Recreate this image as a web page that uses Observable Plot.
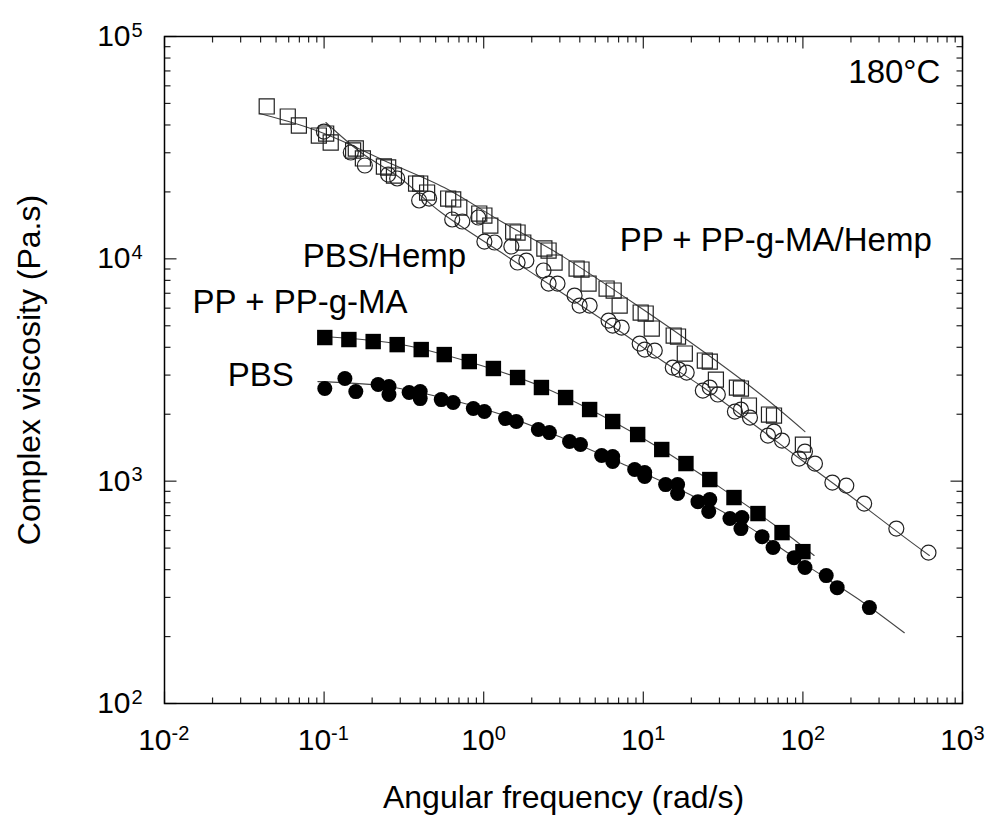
<!DOCTYPE html>
<html><head><meta charset="utf-8">
<script src="https://cdn.jsdelivr.net/npm/d3@7"></script>
<script src="https://cdn.jsdelivr.net/npm/@observablehq/plot@0.6"></script>
<style>body{margin:0;background:#fff} #chart svg{display:block}</style>
</head><body><div id="chart"></div>
<script>
// ---- Data (angular frequency in rad/s, complex viscosity in Pa.s) ----
// PBS (filled circles)
const pbsFreq = [0.101,0.135,0.158,0.218,0.255,0.255,0.341,0.400,0.400,0.542,0.644,0.861,1.01,1.37,1.60,2.20,2.58,3.45,4.04,5.48,6.43,6.43,8.83,10.2,10.2,13.8,16.4,16.4,22.0,26.1,25.7,34.9,41.5,40.9,55.5,65.0,88.1,103,140,164,261];
const pbsEta  = [2610,2894,2529,2720,2664,2453,2504,2529,2352,2328,2257,2121,2056,1912,1854,1707,1654,1507,1461,1304,1290,1225,1128,1093,1049,965,965,880,809,826,730,679,686,612,563,503,453,409,376,332,270];
// PP + PP-g-MA (filled squares)
const ppFreq = [0.101,0.143,0.203,0.287,0.406,0.566,0.812,1.15,1.63,2.30,3.26,4.61,6.43,9.22,13.05,18.5,26.1,37.0,52.3,74.0,100];
const ppEta  = [4426,4335,4246,4113,3908,3710,3451,3212,2926,2638,2378,2100,1855,1621,1388,1200,1017,844,715,587,482];
// PBS/Hemp (open circles)
const pbsHempFreq = [0.0997,0.147,0.180,0.252,0.287,0.394,0.455,0.635,0.734,0.925,1.01,1.17,1.49,1.63,1.85,2.37,2.55,2.90,3.71,3.99,4.61,6.06,6.43,7.32,9.49,10.2,11.8,15.3,16.7,18.7,23.6,26.1,29.3,37.5,40.9,46.6,60.4,65.9,74.0,94.6,103,119,153,187,242,385,612];
const pbsHempEta  = [37370,30080,26290,23950,22980,18300,18670,15030,14720,15340,11960,11840,11360,9625,9826,8861,7743,7743,6838,6165,6165,5277,5012,4909,4159,3908,3868,3243,3177,3080,2556,2636,2453,2056,2099,1932,1604,1671,1523,1264,1359,1200,986,955,793,612,477];
// PP + PP-g-MA/Hemp (open squares)
const ppHempFreq = [0.0437,0.0592,0.0695,0.0927,0.103,0.110,0.152,0.158,0.175,0.237,0.252,0.274,0.377,0.400,0.442,0.599,0.644,0.703,0.938,1.01,1.10,1.53,1.63,1.77,2.40,2.55,2.78,3.82,4.10,4.54,5.89,6.52,7.11,9.63,10.35,11.3,15.5,16.5,18.2,24.3,26.1,28.5,38.6,40.9,45.9,61.3,65.9,100];
const ppHempEta  = [48440,43660,39780,35860,36610,33360,30710,31350,28270,26020,25750,23700,21810,21810,19870,18670,18490,17010,15990,15660,14120,13270,13130,11840,11130,10900,9625,9045,8953,7743,7353,7202,6165,5733,5674,4859,4519,4472,3750,3488,3451,2864,2636,2610,2189,1994,1973,1461];
// Fitted curves
const pbsFitFreq = [0.0914,0.227,0.542,1.29,3.07,7.32,17.4,41.5,98.9,235,432];
const pbsFitEta  = [2805,2692,2377,1994,1571,1200,907,651,430,287,208];
const ppFitFreq = [0.101,0.304,0.836,2.30,5.48,13.05,31.1,74.0,117.6];
const ppFitEta  = [4472,4117,3416,2664,1973,1387,926,600,463];
const pbsHempFitFreq = [0.1026,0.170,0.291,0.542,1.29,3.07,7.32,13.05,23.3,55.4,98.9,204,420,620];
const pbsHempFitEta  = [41030,30080,23460,16160,10670,7053,4662,3488,2664,1689,1238,844,569,463];
const ppHempFitFreq = [0.0395,0.0791,0.1275,0.237,0.566,1.29,3.07,9.77,23.3,55.4,103];
const ppHempFitEta  = [45040,38960,34060,27690,20930,14720,10340,5976,3868,2428,1671];

// Axis ticks and labels
const xMajor = [0.01,0.1,1,10,100,1000];
const xTickExps = ["-2","-1","0","1","2","3"];
const yMajor = [100,1000,10000,100000];
const yTickExps = ["2","3","4","5"];
const minorMult = [2,3,4,5,6,7,8,9];

const rows = (f, e) => f.map((x, i) => ({x, y: e[i]}));
const minorOf = (majors) => majors.slice(0, -1).flatMap(m => minorMult.map(k => k * m));
const xMinor = minorOf(xMajor), yMinor = minorOf(yMajor);
const tickSym = (dx, dy) => ({draw(ctx) { ctx.moveTo(0, 0); ctx.lineTo(dx, dy); }});

const FONT = "'Liberation Sans', Arial, Helvetica, sans-serif";
const tickStyle = {fill: "none", stroke: "#222", strokeWidth: 1.2};
const xLab = xMajor.map((v, i) => ({v, e: xTickExps[i]}));
const yLab = yMajor.map((v, i) => ({v, e: yTickExps[i]}));
const xNeg = xLab.filter(d => d.e.startsWith("-")), xPos = xLab.filter(d => !d.e.startsWith("-"));

const lineStyle = {x: "x", y: "y", stroke: "#444", strokeWidth: 1.1, curve: "catmull-rom"};
const annot = {fontSize: 33, fill: "#000", lineAnchor: "middle"};

const chart = Plot.plot({
  width: 990, height: 819,
  marginLeft: 164, marginRight: 28, marginTop: 36, marginBottom: 116,
  style: {fontFamily: FONT, background: "#fff", color: "#000"},
  x: {type: "log", domain: [0.01, 1000], axis: null},
  y: {type: "log", domain: [100, 100000], axis: null},
  marks: [
    // ticks (inward, mirrored on all four sides)
    Plot.dot(xMajor, {x: d => d, frameAnchor: "bottom", symbol: tickSym(0, -12), ...tickStyle}),
    Plot.dot(xMinor, {x: d => d, frameAnchor: "bottom", symbol: tickSym(0, -6), ...tickStyle}),
    Plot.dot(xMajor, {x: d => d, frameAnchor: "top", symbol: tickSym(0, 12), ...tickStyle}),
    Plot.dot(xMinor, {x: d => d, frameAnchor: "top", symbol: tickSym(0, 6), ...tickStyle}),
    Plot.dot(yMajor, {y: d => d, frameAnchor: "left", symbol: tickSym(12, 0), ...tickStyle}),
    Plot.dot(yMinor, {y: d => d, frameAnchor: "left", symbol: tickSym(6, 0), ...tickStyle}),
    Plot.dot(yMajor, {y: d => d, frameAnchor: "right", symbol: tickSym(-12, 0), ...tickStyle}),
    Plot.dot(yMinor, {y: d => d, frameAnchor: "right", symbol: tickSym(-6, 0), ...tickStyle}),
    // tick labels 10^n
    Plot.text(xNeg, {x: "v", frameAnchor: "bottom", text: () => "10", textAnchor: "end", lineAnchor: "middle", dx: 7, dy: 37, fontSize: 30}),
    Plot.text(xNeg, {x: "v", frameAnchor: "bottom", text: "e", textAnchor: "start", lineAnchor: "top", dx: 7, dy: 22, fontSize: 20}),
    Plot.text(xPos, {x: "v", frameAnchor: "bottom", text: () => "10", textAnchor: "end", lineAnchor: "middle", dx: 11, dy: 37, fontSize: 30}),
    Plot.text(xPos, {x: "v", frameAnchor: "bottom", text: "e", textAnchor: "start", lineAnchor: "top", dx: 11, dy: 22, fontSize: 20}),
    Plot.text(yLab, {y: "v", frameAnchor: "left", text: () => "10", textAnchor: "end", lineAnchor: "middle", dx: -34, fontSize: 30}),
    Plot.text(yLab, {y: "v", frameAnchor: "left", text: "e", textAnchor: "start", lineAnchor: "top", dx: -33, dy: -14, fontSize: 20}),
    // axis titles
    Plot.text(["Angular frequency (rad/s)"], {frameAnchor: "bottom", text: d => d, textAnchor: "middle", lineAnchor: "middle", dy: 94, fontSize: 32}),
    Plot.text(["Complex viscosity (Pa.s)"], {frameAnchor: "left", text: d => d, rotate: -90, textAnchor: "middle", lineAnchor: "middle", dx: -135, fontSize: 32}),
    // fitted curves
    Plot.line(rows(pbsFitFreq, pbsFitEta), lineStyle),
    Plot.line(rows(ppFitFreq, ppFitEta), lineStyle),
    Plot.line(rows(pbsHempFitFreq, pbsHempFitEta), lineStyle),
    Plot.line(rows(ppHempFitFreq, ppHempFitEta), lineStyle),
    // data points
    Plot.dot(rows(ppHempFreq, ppHempEta), {x: "x", y: "y", symbol: "square", r: 8.5, fill: "none", stroke: "#222", strokeWidth: 1.2}),
    Plot.dot(rows(pbsHempFreq, pbsHempEta), {x: "x", y: "y", symbol: "circle", r: 7.5, fill: "none", stroke: "#222", strokeWidth: 1.2}),
    Plot.dot(rows(ppFreq, ppEta), {x: "x", y: "y", symbol: "square", r: 8.7, fill: "#000", stroke: "none"}),
    Plot.dot(rows(pbsFreq, pbsEta), {x: "x", y: "y", symbol: "circle", r: 7.5, fill: "#000", stroke: "none"}),
    // annotations
    Plot.text(["180°C"], {x: 727, y: 69200, text: d => d, textAnchor: "end", ...annot}),
    Plot.text(["PBS/Hemp"], {x: 0.0736, y: 10300, text: d => d, textAnchor: "start", ...annot}),
    Plot.text(["PP + PP-g-MA/Hemp"], {x: 7.11, y: 12150, text: d => d, textAnchor: "start", ...annot}),
    Plot.text(["PP + PP-g-MA"], {x: 0.0150, y: 6393, text: d => d, textAnchor: "start", ...annot}),
    Plot.text(["PBS"], {x: 0.0249, y: 3001, text: d => d, textAnchor: "start", ...annot}),
    Plot.frame({stroke: "#000", strokeWidth: 1.5})
  ]
});
document.getElementById("chart").append(chart);
</script></body></html>
